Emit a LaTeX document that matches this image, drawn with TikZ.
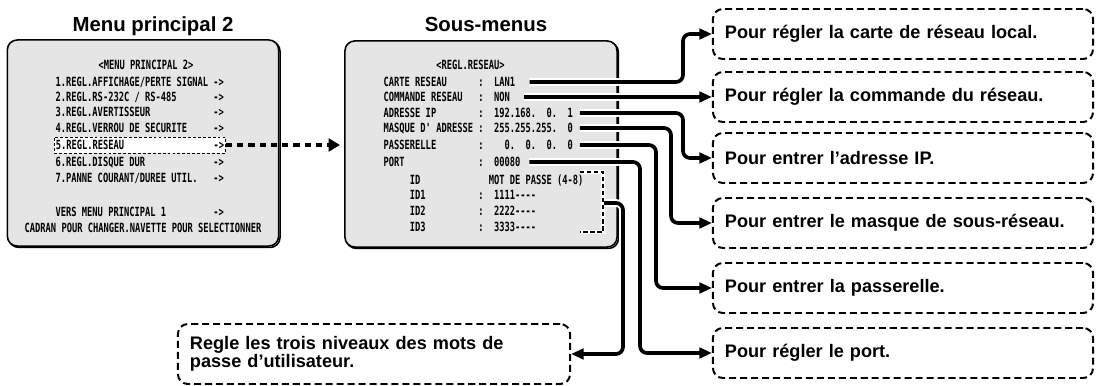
\documentclass[tikz,border=0pt]{standalone}
\usepackage{fontspec}
\setmainfont{Liberation Sans}
\newfontfamily\osd{DejaVu Sans Mono}[FakeStretch=0.69,WordSpace={1,0,0},PunctuationSpace=WordSpace]
\usetikzlibrary{arrows.meta}
\tikzset{
  ecran/.style={draw=black,line width=1.1pt,rounded corners=7pt,fill=black!10,
                preaction={draw=black,line width=1.1pt,transform canvas={shift={(1pt,-1pt)}}}},
  ligne/.style={font={\fontsize{9pt}{10pt}\osd\bfseries},inner sep=1pt,anchor=west,
                text height=6.5pt,text depth=0pt},
  titre/.style={font={\fontsize{14.5pt}{17pt}\selectfont\bfseries}},
  note/.style={draw=black,line width=1.4pt,dash pattern=on 5pt off 2.8pt,rounded corners=7pt,
               font={\fontsize{12.9pt}{13pt}\selectfont\bfseries},align=left,inner xsep=0.3cm},
  fil/.style={line width=2.6pt,rounded corners=5pt,-{Triangle[length=9pt,width=7.5pt]},
              preaction={draw=white,line width=5.5pt,arrows=-,shorten >=7pt}},
  pointille/.style={line width=3.2pt,dash pattern=on 4.4pt off 3.6pt,
                    -{Triangle[length=8pt,width=9pt]},shorten >=3pt},
  crochet/.style={line width=1.1pt,dash pattern=on 3pt off 2pt,
                  preaction={draw=white,line width=3pt,solid}},
}

\begin{document}
\begin{tikzpicture}[x=0.025cm,y=-0.025cm]
  \useasboundingbox (0,0) rectangle (1097,386);

  % ---------- ECRANS ----------
  \node[ecran,minimum width=6.78cm,minimum height=5.15cm] (eMenu) at (143,143) {};
  \node[ecran,minimum width=6.8cm,minimum height=5.15cm] (eSous) at (481,144) {};
  \node[titre,anchor=base] (tiMenu) at (153,32) {Menu principal 2};
  \node[titre,anchor=base] (tiSous) at (486,32) {Sous-menus};

  % ---------- MENU PRINCIPAL 2 ----------
  \node[ligne,anchor=center] (lTete) at (146,65) {<MENU~PRINCIPAL~2>};
  \foreach \y/\n/\t in {%
      82/1/{1.REGL.AFFICHAGE/PERTE~SIGNAL~->},
      97/2/{2.REGL.RS-232C~/~RS-485~~~~~~~->},
      112/3/{3.REGL.AVERTISSEUR~~~~~~~~~~~~->},
      128/4/{4.REGL.VERROU~DE~SECURITE~~~~~->},
      162/6/{6.REGL.DISQUE~DUR~~~~~~~~~~~~~->},
      178/7/{7.PANNE~COURANT/DUREE~UTIL.~~~->},
      212/8/{VERS~MENU~PRINCIPAL~1~~~~~~~~~->}}
  {
    \node[ligne] (l\n) at (54,\y) {\t};
  }
  \node[ligne,draw,line width=0.6pt,dash pattern=on 2pt off 1.5pt,fill=white,inner ysep=2.4pt]
       (l5) at (54,145) {5.REGL.RESEAU~~~~~~~~~~~~~~~~~->};
  \node[ligne,anchor=center] (lPied) at (143,228)
       {CADRAN~POUR~CHANGER.NAVETTE~POUR~SELECTIONNER};

  % ---------- SOUS-MENU REGL.RESEAU ----------
  \foreach \y/\n/\t in {%
      65/mTete/{~~~~~~~~~~<REGL.RESEAU>},
      82/mCarte/{CARTE~RESEAU~~~~~~:~~LAN1},
      97/mCommande/{COMMANDE~RESEAU~~~:~~NON},
      113/mAdresse/{ADRESSE~IP~~~~~~~~:~~192.168.~~0.~~1},
      128/mMasque/{MASQUE~D'~ADRESSE~:~~255.255.255.~~0},
      145/mPasserelle/{PASSERELLE~~~~~~~~:~~~~0.~~0.~~0.~~0},
      162/mPort/{PORT~~~~~~~~~~~~~~:~~00080},
      180/mID/{~~~~~ID~~~~~~~~~~~~~MOT~DE~PASSE~(4-8)},
      195/mID1/{~~~~~ID1~~~~~~~~~~:~~1111----},
      211/mID2/{~~~~~ID2~~~~~~~~~~:~~2222----},
      227/mID3/{~~~~~ID3~~~~~~~~~~:~~3333----}}
  {
    \node[ligne] (\n) at (382,\y) {\t};
  }
  \draw[crochet] (580,172) -- (603,172) -- (603,232) -- (580,232);
  \coordinate (cID) at (604,203);

  % ---------- EXPLICATIONS ----------
  \foreach \y/\n/\t in {%
      34/tCarte/{Pour régler la carte de réseau local.},
      97/tCommande/{Pour régler la commande du réseau.},
      158/tAdresse/{Pour entrer l’adresse IP.},
      223/tMasque/{Pour entrer le masque de sous-réseau.},
      288/tPasserelle/{Pour entrer la passerelle.},
      353/tPort/{Pour régler le port.}}
  {
    \node[note,text width=8.9cm,minimum height=1.25cm] (\n) at (903,\y) {\t};
  }
  \node[note,text width=9.2cm,minimum height=1.5cm] (tMotsPasse) at (374,354)
       {Regle les trois niveaux des mots de\\passe d’utilisateur.};

  % ---------- FLECHES ----------
  \draw[pointille] (l5.east) -- (l5.east -| eSous.west);
  \draw[fil] ([xshift=0.32cm]mCarte.east) -| (683,0 |- tCarte.west) -- (tCarte.west);
  \draw[fil] ([xshift=0.32cm]mCommande.east) -- (mCommande.east -| tCommande.west);
  \draw[fil] ([xshift=0.13cm]mAdresse.east) -| (683,0 |- tAdresse.west) -- (tAdresse.west);
  \draw[fil] ([xshift=0.13cm]mMasque.east) -| (671,0 |- tMasque.west) -- (tMasque.west);
  \draw[fil] ([xshift=0.13cm]mPasserelle.east) -| (656,0 |- tPasserelle.west) -- (tPasserelle.west);
  \draw[fil] ([xshift=0.18cm]mPort.east) -| (640,0 |- tPort.west) -- (tPort.west);
  \draw[fil] (cID) -| (623,0 |- tMotsPasse.east) -- (tMotsPasse.east);

\end{tikzpicture}
\end{document}
